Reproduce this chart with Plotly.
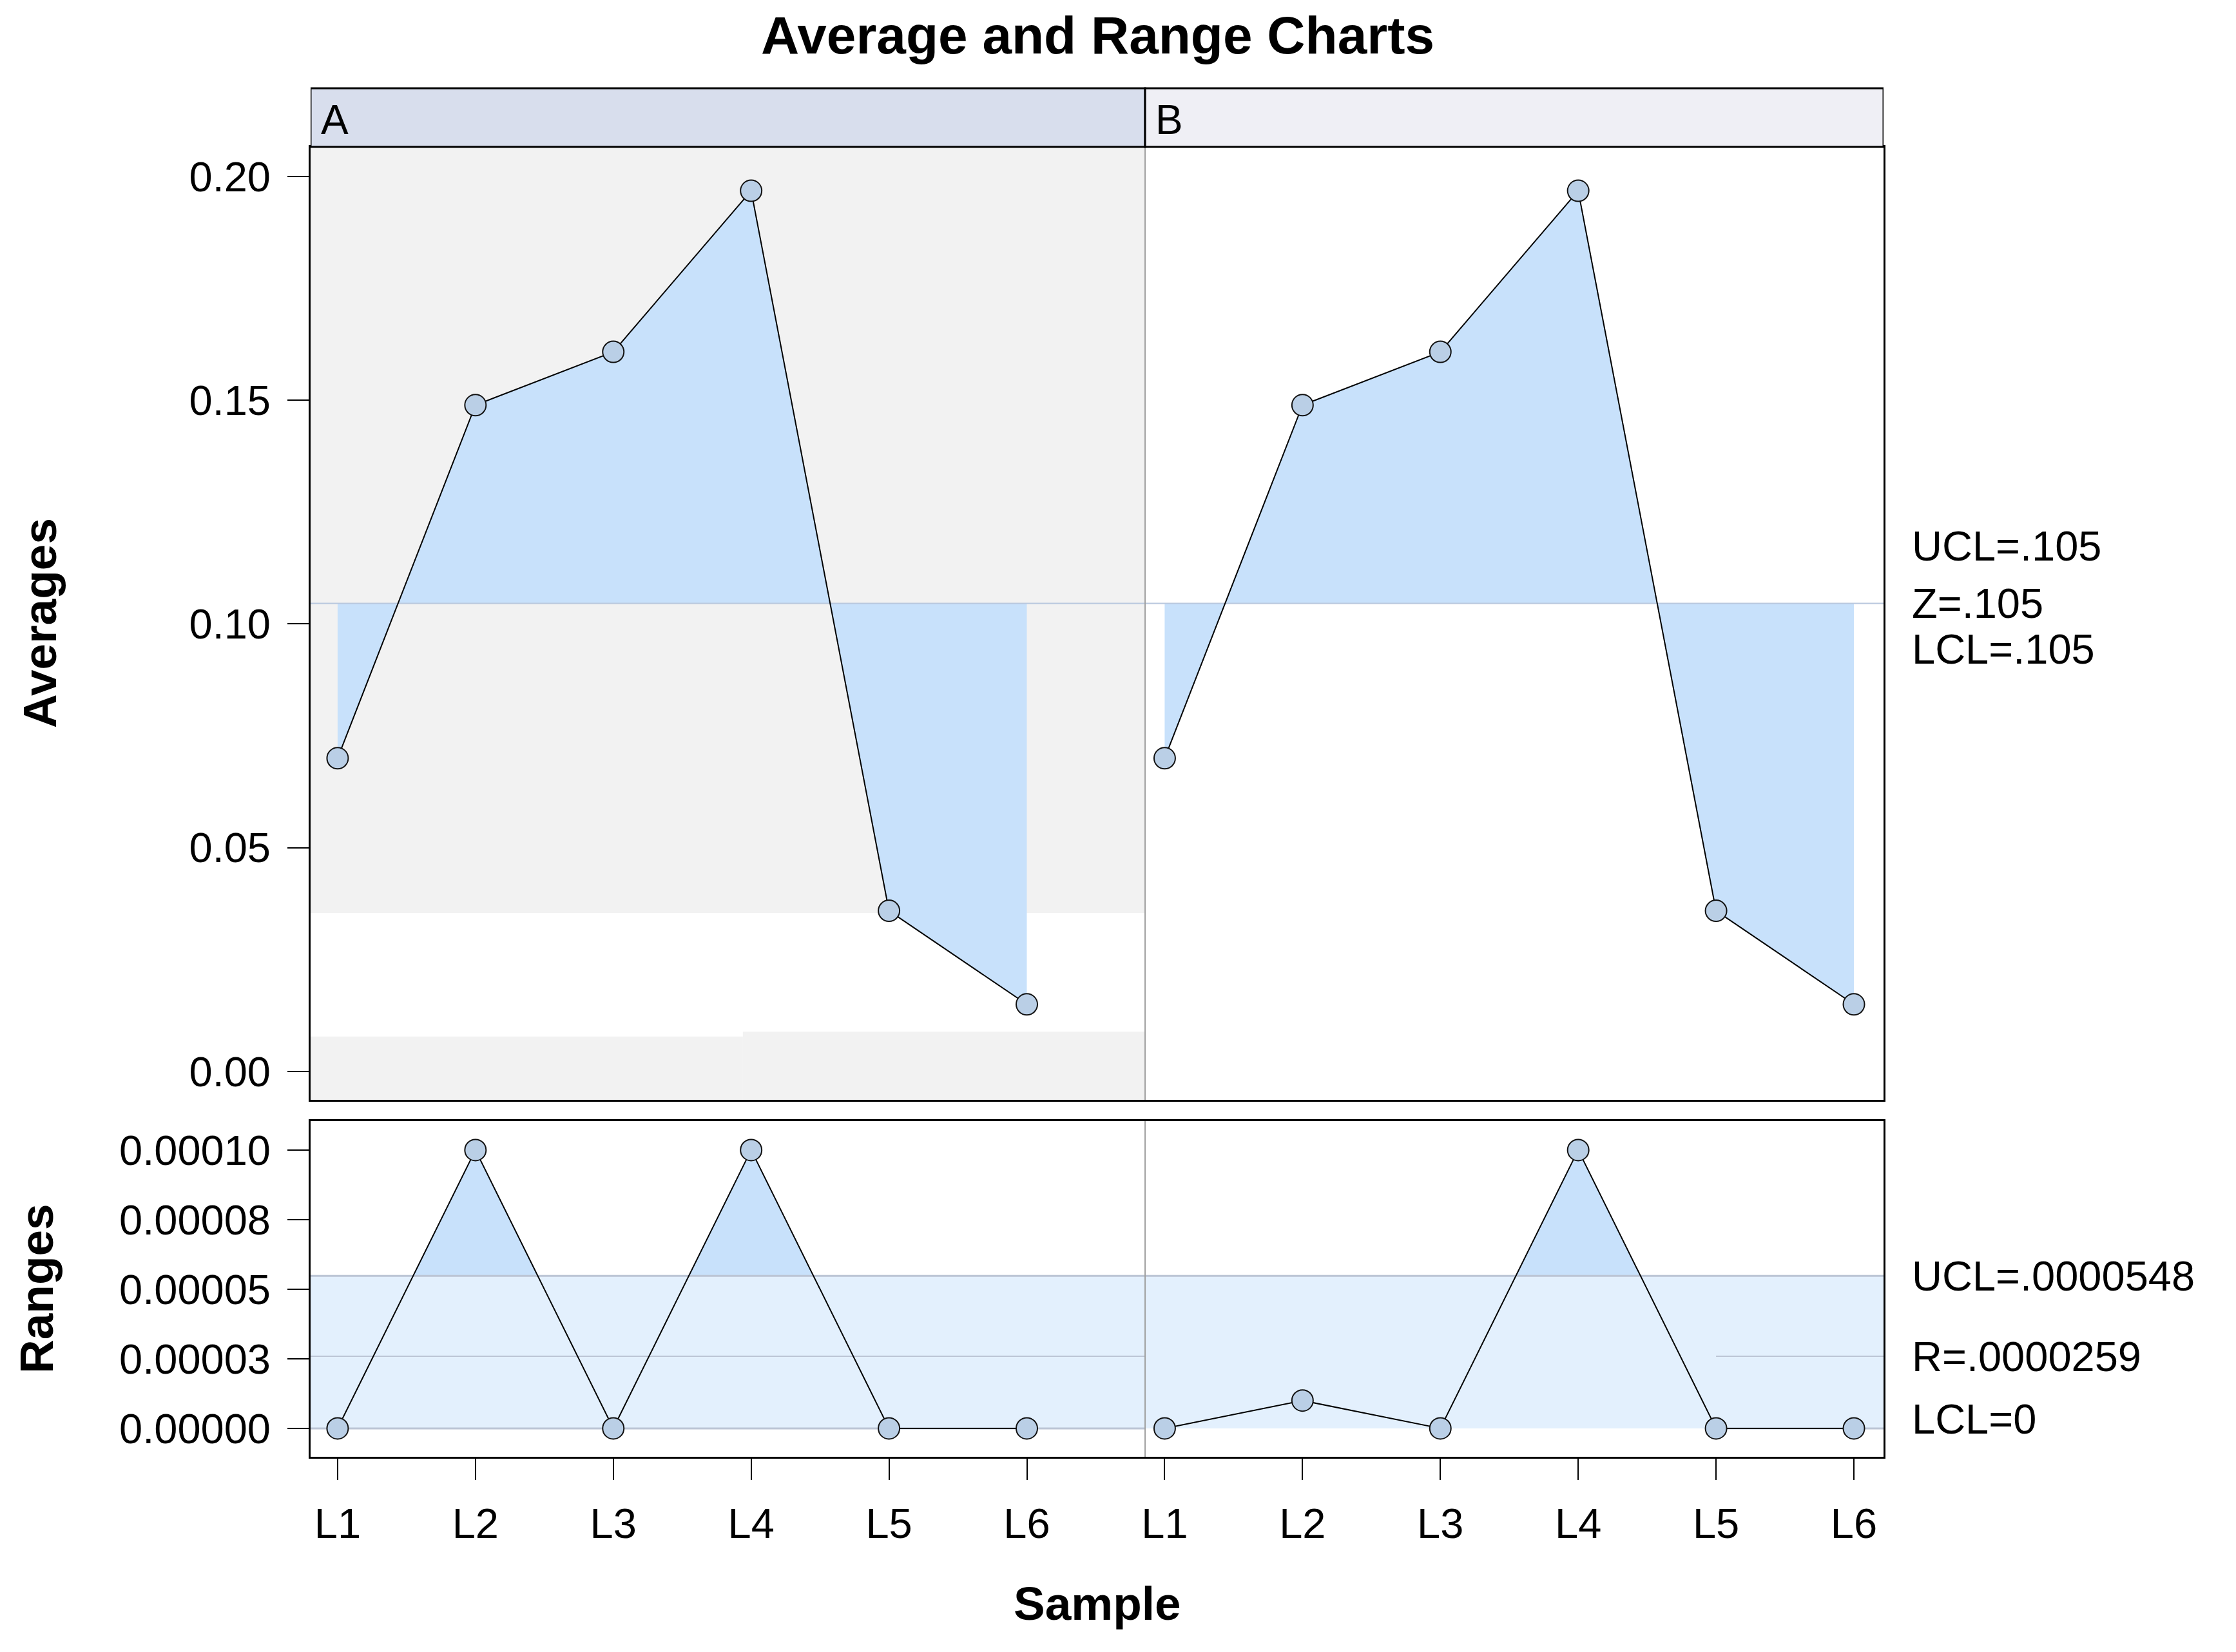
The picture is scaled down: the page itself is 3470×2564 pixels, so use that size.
import plotly.graph_objects as go

# ---------------- data ----------------
samples = ["L1", "L2", "L3", "L4", "L5", "L6"]
groups = ["A", "B"]
avg_A = [0.0700, 0.1489, 0.1608, 0.1968, 0.0359, 0.0150]
avg_B = [0.0700, 0.1489, 0.1608, 0.1968, 0.0359, 0.0150]
rng_A = [0.0, 0.00010, 0.0, 0.00010, 0.0, 0.0]
rng_B = [0.0, 0.00001, 0.0, 0.00010, 0.0, 0.0]

avg_center = 0.1046          # UCL = Z = LCL = .105
avg_labels = ["UCL=.105", "Z=.105", "LCL=.105"]
rng_ucl = 0.0000548
rng_center = 0.0000259
rng_lcl = 0.0
rng_labels = ["UCL=.0000548", "R=.0000259", "LCL=0"]

avg_ticks = [0.0, 0.05, 0.10, 0.15, 0.20]
avg_ticktext = ["0.00", "0.05", "0.10", "0.15", "0.20"]
rng_ticks = [0.0, 0.000025, 0.00005, 0.000075, 0.0001]
rng_ticktext = ["0.00000", "0.00003", "0.00005", "0.00008", "0.00010"]

# zone shading of panel A (averages chart)
a_shade_top_from = 0.0354
a_shade_bottom = [(0.804, 3.94, 0.0078), (3.94, 6.858, 0.0089)]

# ---------------- styling ----------------
FONT = "Liberation Sans, Arial, sans-serif"
W, H = 3470, 2564
ML, MR = 482, 547
X_LO, X_HI, X_DIV = 0.804, 12.215, 6.858
AVG_RANGE = [-0.00634, 0.2066]
RNG_RANGE = [-0.0000102, 0.0001104]

def py(px):  # pixel row -> paper fraction
    return (H - px) / H

top_dom = [py(1707), py(228)]
bot_dom = [py(2261), py(1740)]
strip = [py(228), py(137)]

FILL_DARK = "#C8E1FB"
FILL_LIGHT = "#E3F0FD"
GRAY_BG = "#F2F2F2"
CTRL = "#BCC5D5"
MARK = "#BACFE6"

fig = go.Figure()

series = [(avg_A, rng_A), (avg_B, rng_B)]
xs_all = []
for gi, (av, rg) in enumerate(series):
    xs = [gi * len(samples) + i + 1 for i in range(len(samples))]
    xs_all.append(xs)
    # averages: fill between data and center line
    fig.add_trace(go.Scatter(x=xs, y=[avg_center] * len(xs), mode="lines",
                             line=dict(width=0), hoverinfo="skip",
                             showlegend=False, xaxis="x", yaxis="y"))
    fig.add_trace(go.Scatter(x=xs, y=av, mode="lines", line=dict(width=0),
                             fill="tonexty", fillcolor=FILL_DARK,
                             hoverinfo="skip", showlegend=False,
                             xaxis="x", yaxis="y"))
    # ranges: fill between data and UCL (part below UCL covered by band)
    fig.add_trace(go.Scatter(x=xs, y=[rng_ucl] * len(xs), mode="lines",
                             line=dict(width=0), hoverinfo="skip",
                             showlegend=False, xaxis="x2", yaxis="y2"))
    fig.add_trace(go.Scatter(x=xs, y=rg, mode="lines", line=dict(width=0),
                             fill="tonexty", fillcolor=FILL_DARK,
                             hoverinfo="skip", showlegend=False,
                             xaxis="x2", yaxis="y2"))

# light band between LCL and UCL of range chart (drawn over lower dark fill)
fig.add_trace(go.Scatter(x=[X_LO, X_HI, X_HI, X_LO, X_LO],
                         y=[rng_lcl, rng_lcl, rng_ucl, rng_ucl, rng_lcl],
                         mode="lines", line=dict(width=0), fill="toself",
                         fillcolor=FILL_LIGHT, hoverinfo="skip",
                         showlegend=False, xaxis="x2", yaxis="y2"))

# control lines
fig.add_trace(go.Scatter(x=[X_LO, X_HI], y=[avg_center] * 2, mode="lines",
                         line=dict(color="#B9C8DE", width=2), showlegend=False,
                         hoverinfo="skip", xaxis="x", yaxis="y"))
fig.add_trace(go.Scatter(x=[X_LO, X_HI], y=[rng_ucl] * 2, mode="lines",
                         line=dict(color=CTRL, width=3), showlegend=False,
                         hoverinfo="skip", xaxis="x2", yaxis="y2"))
x_b5 = xs_all[1][4]
for val in (rng_center, rng_lcl):
    fig.add_trace(go.Scatter(x=[X_LO, X_DIV, None, x_b5, X_HI],
                             y=[val, val, None, val, val], mode="lines",
                             line=dict(color=CTRL, width=3 if val == rng_lcl else 2),
                             showlegend=False, hoverinfo="skip",
                             xaxis="x2", yaxis="y2"))

# data lines + markers
for gi, (av, rg) in enumerate(series):
    xs = xs_all[gi]
    fig.add_trace(go.Scatter(x=xs, y=av, mode="lines+markers",
                             line=dict(color="black", width=2),
                             marker=dict(size=33, color=MARK,
                                         line=dict(color="#111111", width=2)),
                             showlegend=False, xaxis="x", yaxis="y",
                             name=groups[gi]))
    fig.add_trace(go.Scatter(x=xs, y=rg, mode="lines+markers",
                             line=dict(color="black", width=2),
                             marker=dict(size=33, color=MARK,
                                         line=dict(color="#111111", width=2)),
                             showlegend=False, xaxis="x2", yaxis="y2",
                             name=groups[gi]))

shapes = []
# gray zone background in panel A
shapes.append(dict(type="rect", xref="x", yref="y", x0=X_LO, x1=X_DIV,
                   y0=a_shade_top_from, y1=AVG_RANGE[1], fillcolor=GRAY_BG,
                   line=dict(width=0), layer="below"))
for x0, x1, ytop in a_shade_bottom:
    shapes.append(dict(type="rect", xref="x", yref="y", x0=x0, x1=x1,
                       y0=AVG_RANGE[0], y1=ytop, fillcolor=GRAY_BG,
                       line=dict(width=0), layer="below"))
# panel dividers
for yr in ("y domain", "y2 domain"):
    shapes.append(dict(type="line", xref="x", yref=yr, x0=X_DIV, x1=X_DIV,
                       y0=0, y1=1, line=dict(color="#A0A0A0", width=2)))
# strips
strip_cols = ["#D8DEED", "#EFEFF5"]
bounds = [(X_LO, X_DIV), (X_DIV, X_HI)]
for (x0, x1), c in zip(bounds, strip_cols):
    shapes.append(dict(type="rect", xref="x", yref="paper", x0=x0, x1=x1,
                       y0=strip[0], y1=strip[1], fillcolor=c,
                       line=dict(color="black", width=3)))

ann = []
for (x0, _), g in zip(bounds, groups):
    ann.append(dict(x=x0, y=py(186), xref="x", yref="paper", text=g,
                    showarrow=False, xanchor="left", yanchor="middle",
                    xshift=14, font=dict(family=FONT, size=64, color="black")))

# right-side limit labels
XR = (2965 - ML) / (W - ML - MR)
for txt, shift in zip(avg_labels, [89, 0, -71]):
    ann.append(dict(x=XR, y=avg_center, xref="paper", yref="y", text=txt,
                    showarrow=False, xanchor="left", yanchor="middle",
                    yshift=shift, font=dict(family=FONT, size=65, color="black")))
for txt, val, shift in zip(rng_labels, [rng_ucl, rng_center, rng_lcl], [0, 0, 14]):
    ann.append(dict(x=XR, y=val, xref="paper", yref="y2", text=txt,
                    showarrow=False, xanchor="left", yanchor="middle",
                    yshift=shift, font=dict(family=FONT, size=65, color="black")))

PW = W - ML - MR
ann.append(dict(x=(1703 - ML) / PW, y=py(55), xref="paper", yref="paper",
                text="<b>Average and Range Charts</b>", showarrow=False,
                xanchor="center", yanchor="middle",
                font=dict(family=FONT, size=82, color="black")))
ann.append(dict(x=(62 - ML) / PW, y=py(967), xref="paper", yref="paper",
                text="<b>Averages</b>", showarrow=False, textangle=-90,
                xanchor="center", yanchor="middle",
                font=dict(family=FONT, size=73, color="black")))
ann.append(dict(x=(56 - ML) / PW, y=py(2000), xref="paper", yref="paper",
                text="<b>Ranges</b>", showarrow=False, textangle=-90,
                xanchor="center", yanchor="middle",
                font=dict(family=FONT, size=73, color="black")))
ann.append(dict(x=0.5, y=py(2488), xref="paper", yref="paper",
                text="<b>Sample</b>", showarrow=False,
                xanchor="center", yanchor="middle",
                font=dict(family=FONT, size=73, color="black")))

tickvals_x = [x for xs in xs_all for x in xs]
ticktext_x = samples * len(groups)

axis_common = dict(showline=True, mirror=True, linecolor="black", linewidth=3,
                   showgrid=False, zeroline=False, automargin=False)

fig.update_layout(
    width=W, height=H,
    margin=dict(l=ML, r=MR, t=0, b=0),
    paper_bgcolor="white", plot_bgcolor="white",
    font=dict(family=FONT, color="black"),
    showlegend=False,
    shapes=shapes, annotations=ann,
    xaxis=dict(domain=[0, 1], anchor="y", range=[X_LO, X_HI],
               showticklabels=False, ticks="", tickvals=tickvals_x,
               **axis_common),
    yaxis=dict(domain=top_dom, anchor="x", range=AVG_RANGE,
               tickvals=avg_ticks, ticktext=avg_ticktext, ticks="outside",
               ticklen=33, tickwidth=2, tickcolor="black",
               ticklabelstandoff=13,
               tickfont=dict(family=FONT, size=65, color="black"),
               **axis_common),
    xaxis2=dict(domain=[0, 1], anchor="y2", range=[X_LO, X_HI],
                tickvals=tickvals_x, ticktext=ticktext_x, ticks="outside",
                ticklen=33, tickwidth=1.5, tickcolor="black",
                ticklabelstandoff=12,
                tickfont=dict(family=FONT, size=65, color="black"),
                **axis_common),
    yaxis2=dict(domain=bot_dom, anchor="x2", range=RNG_RANGE,
                tickvals=rng_ticks, ticktext=rng_ticktext, ticks="outside",
                ticklen=33, tickwidth=2, tickcolor="black",
                ticklabelstandoff=13,
                tickfont=dict(family=FONT, size=65, color="black"),
                **axis_common),
)

fig.write_html("out.html", config={"displayModeBar": False},
               post_script="document.body.style.margin='0px';")
